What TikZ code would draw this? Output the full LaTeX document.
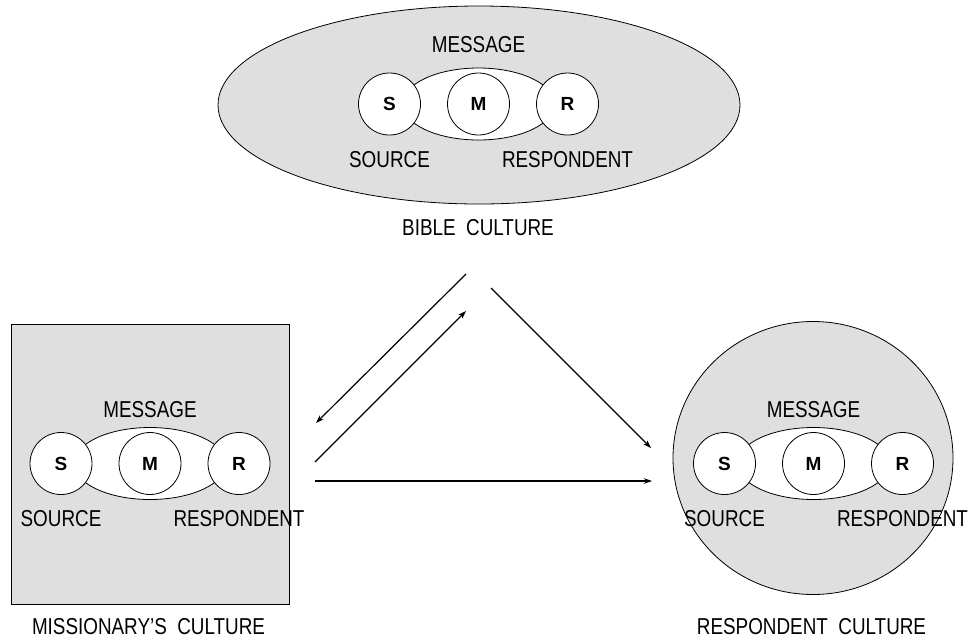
\documentclass[tikz,border=0pt]{standalone}
\usepackage{fontspec}
\setmainfont{Liberation Sans}[FakeStretch=0.82]
\newfontfamily\discfont{Liberation Sans}
\usetikzlibrary{shapes.geometric,arrows.meta}
\definecolor{cultgray}{RGB}{223,223,223}

\tikzset{
  outline/.style={draw=black, line width=0.8pt},
  culture/.style={outline, fill=cultgray, inner sep=0pt},
  lens/.style={outline, fill=white, ellipse, minimum width=152pt, minimum height=72pt, inner sep=0pt},
  disc/.style={outline, fill=white, circle, minimum size=62pt, inner sep=0pt, font=\discfont\fontsize{19}{21}\selectfont\bfseries},
  lbl/.style={anchor=base, inner sep=0pt, font=\fontsize{23}{25}\selectfont},
  flow/.style={line width=1.2pt, -{Stealth[length=8pt,width=5.5pt]}},
  % source--message--respondent group; argument = height of MESSAGE baseline above centre
  pics/smr/.style={code={
    \node[lens] (-lens) at (0,0) {};
    \node[disc] (-S) at (-89,0) {S};
    \node[disc] (-M) at (0,0) {M};
    \node[disc] (-R) at (89,0) {R};
    \node[lbl] (-msg) at (0,-#1) {MESSAGE};
    \node[lbl] (-src) at (-89,63) {SOURCE};
    \node[lbl] (-resp) at (89,63) {RESPONDENT};
  }}
}

\begin{document}
\begin{tikzpicture}[x=1pt, y=-1pt]
  \useasboundingbox (0,0) rectangle (968,638);

  % the three cultures
  \node[culture, ellipse, minimum width=522pt, minimum height=198pt] (bible) at (479,105) {};
  \node[culture, rectangle, minimum width=278pt, minimum height=280pt] (miss) at (150,464) {};
  \node[culture, ellipse, minimum width=280pt, minimum height=273pt] (resp) at (813,458) {};

  % communication groups inside each culture
  \pic (top) at (478.5,104) {smr=52};
  \pic (left) at (150,463.5) {smr=46.5};
  \pic (right) at (813.5,463.5) {smr=46.5};

  % culture names
  \node[lbl] (biblelbl) at (478,235) {BIBLE\ \ CULTURE};
  \node[lbl] (misslbl) at (148.5,634) {MISSIONARY'S\ \ CULTURE};
  \node[lbl] (resplbl) at (811.5,634) {RESPONDENT\ \ CULTURE};

  % arrow end points
  \coordinate (b1) at (466,274);
  \coordinate (m1) at (316,423);
  \coordinate (m2) at (315,462);
  \coordinate (b2) at (466,311);
  \coordinate (b3) at (491,288);
  \coordinate (r3) at (651,448);
  \coordinate (m4) at (315,481);
  \coordinate (r4) at (652,481);

  \draw[flow] (b1) -- (m1);
  \draw[flow] (m2) -- (b2);
  \draw[flow] (b3) -- (r3);
  \draw[flow, line width=1.7pt] (m4) -- (r4);
\end{tikzpicture}
\end{document}
